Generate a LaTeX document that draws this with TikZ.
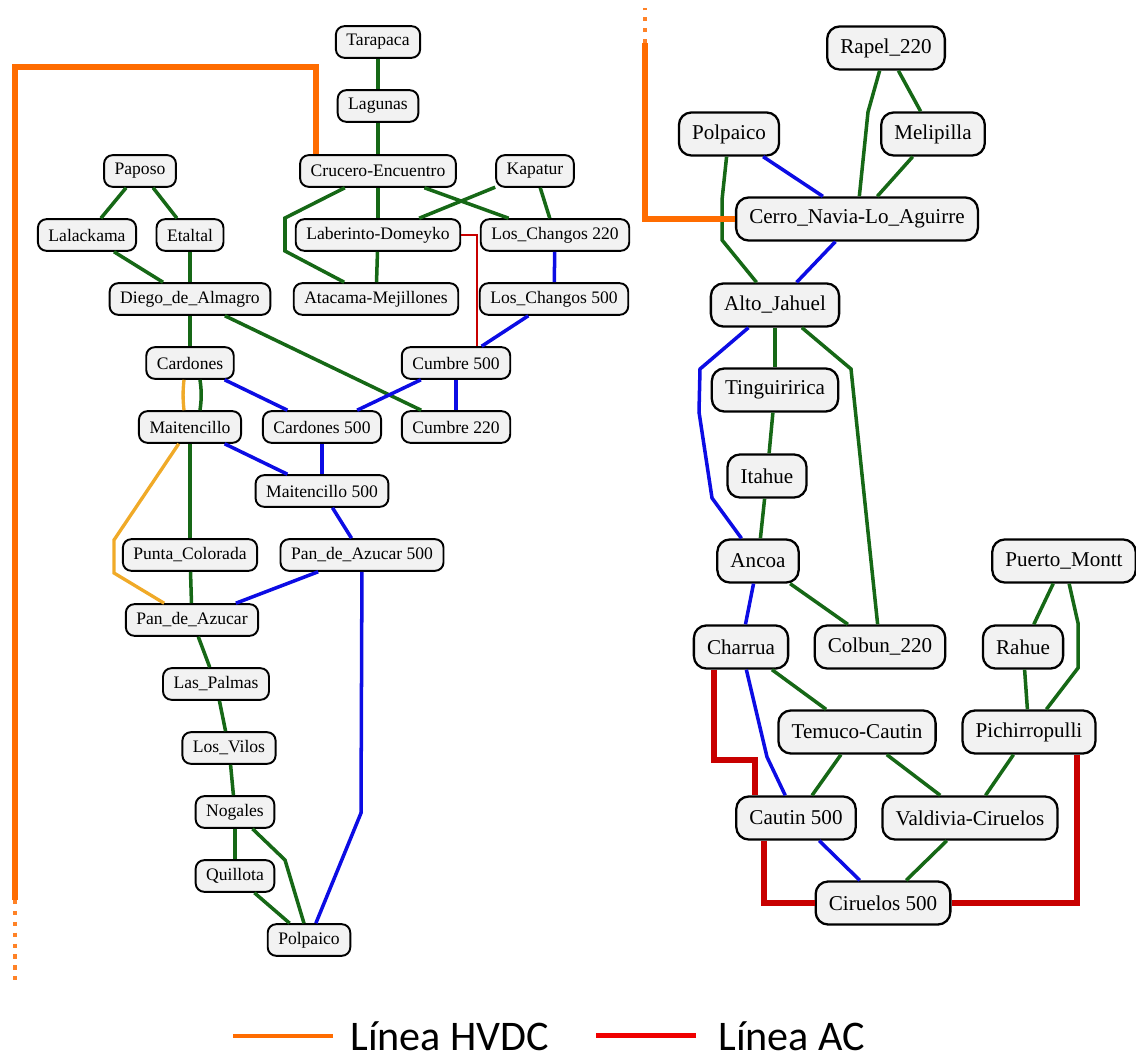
\documentclass[tikz,border=0pt]{standalone}
\usepackage{fontspec}
\setmainfont{Liberation Serif}
\newfontfamily\legfont{Carlito}
\usepackage{tikz}
\usetikzlibrary{positioning}
\definecolor{lgreen}{RGB}{22,104,22}
\definecolor{lblue}{RGB}{12,12,228}
\definecolor{lyell}{RGB}{240,170,40}
\definecolor{lred}{RGB}{200,0,0}
\definecolor{hvdcor}{RGB}{255,108,0}
\definecolor{legred}{RGB}{240,0,0}
\definecolor{busfill}{RGB}{242,242,242}

\begin{document}
\begin{tikzpicture}[x=0.02cm, y=-0.02cm,
  bus/.style={draw, line width=1.1pt, fill=busfill, rounded corners=0.17cm,
              font=\fontsize{10}{12}\selectfont, inner xsep=6pt, inner ysep=1pt,
              minimum height=18pt},
  busr/.style={bus, line width=1.3pt, rounded corners=0.25cm,
               font=\fontsize{12}{14}\selectfont, inner xsep=7.5pt, minimum height=24.5pt},
  gline/.style={draw=lgreen, line width=2pt},
  bline/.style={draw=lblue, line width=2pt},
  yline/.style={draw=lyell, line width=1.9pt},
  rline/.style={draw=lred, line width=1.5pt},
  acline/.style={draw=lred, line width=3.4pt},
  hvline/.style={draw=hvdcor, line width=3.2pt},
  hvdot/.style={draw=hvdcor!85!white, line width=2.6pt, dash pattern=on 2.4pt off 3.8pt},
  legtxt/.style={anchor=base west, inner sep=0pt, font=\legfont\fontsize{24}{28}\selectfont}]
\useasboundingbox (0,0) rectangle (1136,1060);

% north grid
\node[bus] (tar) at (378,42)  {Tarapaca};
\node[bus] (lag) at (378,106) {Lagunas};
\node[bus] (cru) at (378,171) {Crucero-Encuentro};
\node[bus] (pap) at (140,171) {Paposo};
\node[bus] (kap) at (535,171) {Kapatur};
\node[bus] (lal) at (87,235)  {Lalackama};
\node[bus] (eta) at (190,235) {Etaltal};
\node[bus] (lab) at (378,235) {Laberinto-Domeyko};
\node[bus] (lc2) at (555,235) {Los\_Changos 220};
\node[bus] (dda) at (190,299) {Diego\_de\_Almagro};
\node[bus] (ata) at (376,299) {Atacama-Mejillones};
\node[bus] (lc5) at (554,299) {Los\_Changos 500};
\node[bus] (car) at (190,363) {Cardones};
\node[bus] (cu5) at (456,363) {Cumbre 500};
\node[bus] (mai) at (190,427) {Maitencillo};
\node[bus] (ca5) at (322,427) {Cardones 500};
\node[bus] (cu2) at (456,427) {Cumbre 220};
\node[bus] (ma5) at (322,491) {Maitencillo 500};
\node[bus] (pco) at (190,555) {Punta\_Colorada};
\node[bus] (pa5) at (362,555) {Pan\_de\_Azucar 500};
\node[bus] (pda) at (192,620) {Pan\_de\_Azucar};
\node[bus] (lpa) at (216,684) {Las\_Palmas};
\node[bus] (lvi) at (229,748) {Los\_Vilos};
\node[bus] (nog) at (235,812) {Nogales};
\node[bus] (qui) at (235,876) {Quillota};
\node[bus] (pol) at (309,940) {Polpaico};

\draw[gline] (tar) -- (lag); \draw[gline] (lag) -- (cru); \draw[gline] (cru) -- (lab); \draw[gline] (lab) -- (ata);
\draw[gline] (cru) -- (285,218) -- (285,251) -- (ata);
\draw[gline] (cru) -- (lc2); \draw[gline] (kap) -- (lab); \draw[gline] (kap) -- (lc2);
\draw[bline] (lc2) -- (lc5);
\draw[gline] (pap) -- (lal); \draw[gline] (pap) -- (eta); \draw[gline] (lal) -- (dda); \draw[gline] (eta) -- (dda);
\draw[gline] (dda) -- (car); \draw[gline] (dda) -- (cu2);
\draw[rline] (lab.east) -| ([xshift=.42cm]cu5.north);
\draw[bline] (lc5) -- (cu5); \draw[bline] (cu5) -- (ca5); \draw[bline] (cu5) -- (cu2);
\draw[gline] ([xshift=.2cm]car.south) to[bend left=8] ([xshift=.2cm]mai.north);
\draw[yline] ([xshift=-.12cm]car.south) to[bend right=6] ([xshift=-.12cm]mai.north);
\draw[bline] (car) -- (ca5); \draw[bline] (mai) -- (ma5); \draw[bline] (ca5) -- (ma5);
\draw[gline] (mai) -- (pco); \draw[gline] (pco) -- (pda);
\draw[yline] (mai) -- (114,540) -- (114,573) -- (pda);
\draw[bline] (ma5) -- (pa5); \draw[bline] (pa5) -- (pda);
\draw[bline] (pa5) -- (361,813) -- (pol);
\draw[gline] (pda) -- (lpa); \draw[gline] (lpa) -- (lvi); \draw[gline] (lvi) -- (nog);
\draw[gline] (nog) -- (qui); \draw[gline] (nog) -- (285,860) -- (pol); \draw[gline] (qui) -- (pol);

\coordinate (hvS) at (15,900); \coordinate (hvE) at (15,986);
\draw[hvline] ([xshift=-1.24cm]cru.north) -- ++(0,-87) -| (hvS);
\draw[hvdot] (hvS) -- (hvE);

% south grid
\node[busr] (rap) at (886,48)   {Rapel\_220};
\node[busr] (plr) at (729,134)  {Polpaico};
\node[busr] (mel) at (933,134)  {Melipilla};
\node[busr] (cer) at (857,219)  {Cerro\_Navia-Lo\_Aguirre};
\node[busr] (alt) at (775,305)  {Alto\_Jahuel};
\node[busr] (tin) at (775,390)  {Tinguiririca};
\node[busr] (ita) at (767,476)  {Itahue};
\node[busr] (anc) at (758,561)  {Ancoa};
\node[busr] (pmo) at (1064,561) {Puerto\_Montt};
\node[busr] (cha) at (741,647)  {Charrua};
\node[busr] (col) at (880,647)  {Colbun\_220};
\node[busr] (rah) at (1023,647) {Rahue};
\node[busr] (tem) at (857,732)  {Temuco-Cautin};
\node[busr] (pic) at (1029,732) {Pichirropulli};
\node[busr] (cau) at (796,818)  {Cautin 500};
\node[busr] (val) at (970,818)  {Valdivia-Ciruelos};
\node[busr] (cir) at (883,903)  {Ciruelos 500};

\draw[gline] (rap) -- (868,112) -- (cer); \draw[gline] (rap) -- (mel); \draw[gline] (mel) -- (cer);
\draw[bline] (plr) -- (cer);
\draw[gline] (plr) -- (722,200) -- (722,240) -- (alt);
\draw[bline] (cer) -- (alt);
\draw[gline] (alt) -- (tin); \draw[gline] (tin) -- (ita); \draw[gline] (ita) -- (anc);
\draw[bline] (alt) -- (700,369) -- (699,412) -- (712,498) -- (anc);
\draw[gline] (alt) -- (851,369) -- (col);
\draw[bline] (anc) -- (cha); \draw[gline] (anc) -- (col);
\draw[gline] (pmo) -- (rah); \draw[gline] (pmo) -- (1078,623) -- (1078,668) -- (pic); \draw[gline] (rah) -- (pic);
\draw[gline] (cha) -- (tem);
\draw[bline] (cha) -- (767,757) -- (cau);
\draw[acline] ([xshift=-.54cm]cha.south) -- ++(0,90) -| ([xshift=-.82cm]cau.north);
\draw[gline] (tem) -- (cau); \draw[gline] (tem) -- (val); \draw[gline] (pic) -- (val);
\draw[bline] (cau) -- (cir); \draw[gline] (val) -- (cir);
\draw[acline] ([xshift=-.64cm]cau.south) |- (cir.west);
\draw[acline] ([xshift=.96cm]pic.south) |- (cir.east);

\coordinate (hvN) at (645,43); \coordinate (hvT) at (645,8);
\draw[hvline] (cer.west) -| (hvN);
\draw[hvdot] (hvN) -- (hvT);

% legend
\node[legtxt] (lgh) at (350,1050) {Línea HVDC};
\node[legtxt] (lga) at (718,1050) {Línea AC};
\draw[draw=hvdcor, line width=2pt] ([xshift=-.34cm]lgh.west) -- ++(-100,0);
\draw[draw=legred, line width=2.8pt] ([xshift=-.44cm]lga.west) -- ++(-100,0);
\end{tikzpicture}
\end{document}
